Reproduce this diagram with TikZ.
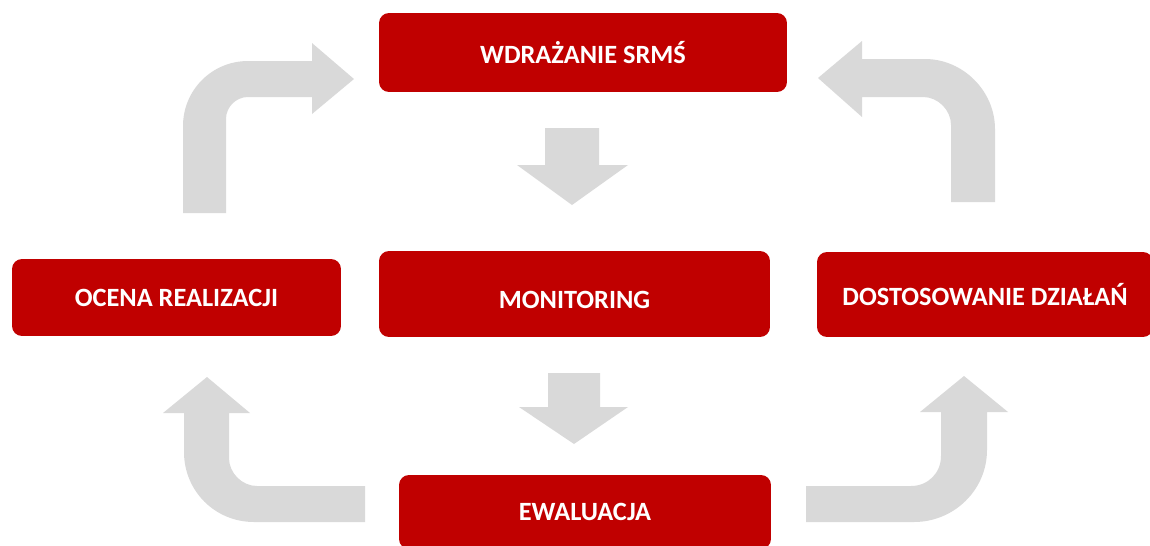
\documentclass[tikz,border=0pt]{standalone}
\usepackage{fontspec}
\setmainfont{Carlito}
\usetikzlibrary{positioning}

\definecolor{boxred}{HTML}{C00000}
\definecolor{flowgrey}{HTML}{D9D9D9}

\tikzset{
	stage/.style={rectangle, rounded corners=0.2cm, fill=boxred, text=white, inner sep=0pt,
		font=\fontsize{15}{18}\selectfont\bfseries},
	flow/.style={fill=flowgrey}
}

\begin{document}
\begin{tikzpicture}[x=0.02cm, y=-0.02cm]
		\useasboundingbox (0,0) rectangle (1150,545);
		% stages
		\node[stage, minimum width=8.16cm, minimum height=1.58cm] (wdr) at (583, 52.5) {WDRAŻANIE SRMŚ};
		\node[stage, minimum width=7.82cm, minimum height=1.72cm, text height=0.58cm, text depth=0pt] (mon) at (574.5, 294) {MONITORING};
		\node[stage, minimum width=6.58cm, minimum height=1.54cm] (oc) at (176.5, 297.5) {OCENA REALIZACJI};
		\node[stage, minimum width=6.72cm, minimum height=1.70cm] (dost) at (985, 294.5) {DOSTOSOWANIE DZIAŁAŃ};
		\node[stage, minimum width=7.44cm, minimum height=1.48cm] (ew) at (585, 512) {EWALUACJA};
		% straight arrows
		\fill[flow] (545,128) -- (599,128) -- (599,165) -- (628,165) -- (572,205) -- (517,165) -- (545,165) -- cycle;
		\fill[flow] (548,373) -- (600,373) -- (600,407) -- (628,407) -- (574,444) -- (519,407) -- (548,407) -- cycle;
		% bent arrows
		\fill[flow] (183,213) -- (183,126) .. controls (183,90) and (212,61) .. (248,61) -- (312,61) -- (312,43)
			-- (354,79) -- (312,114) -- (312,97) -- (248,97) .. controls (236,97) and (226,107) .. (226,119)
			-- (226,213) -- cycle;
		\fill[flow] (818,78) -- (862,41) -- (862,59) -- (925,59) .. controls (963,59) and (995,91) .. (995,129)
			-- (995,202) -- (951,202) -- (951,125) .. controls (951,110) and (938,97) .. (923,97)
			-- (862,97) -- (862,117) -- cycle;
		\fill[flow] (207,377) -- (250,413) -- (229,413) -- (229,458) .. controls (229,473) and (242,486) .. (257,486)
			-- (365,486) -- (365,522) -- (254,522) .. controls (215,522) and (184,491) .. (184,452)
			-- (184,413) -- (163,413) -- cycle;
		\fill[flow] (806,486) -- (911,486) .. controls (928,486) and (941,473) .. (941,456) -- (941,412)
			-- (920,412) -- (964,376) -- (1008,412) -- (987,412) -- (987,450) .. controls (987,490) and (954,522) .. (914,522)
			-- (806,522) -- cycle;
	\end{tikzpicture}
\end{document}
